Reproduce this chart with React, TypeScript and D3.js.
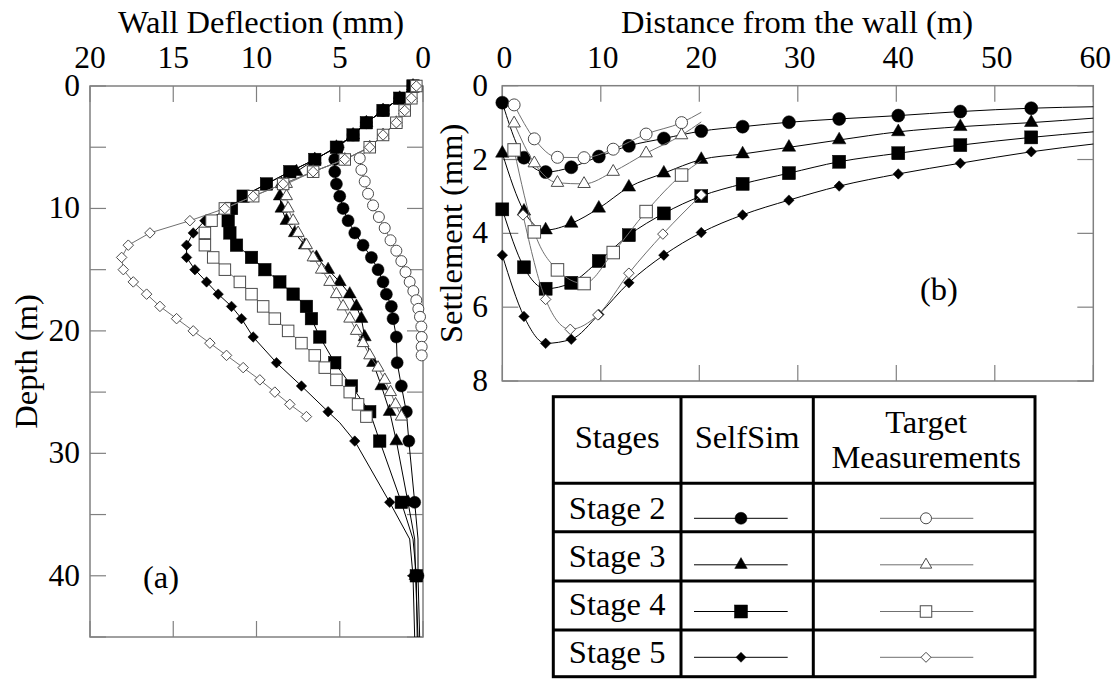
import React from 'react';
import * as d3 from 'd3';

// ---------- Panel (a): wall deflection (mm) vs depth (m) ----------
const A_SIM_DEPTH = [0,1,2,3,4,5,6,7,8,9,10,11,12,13,14,15,16,17,18,19,20.5,22.6,24.5,26.6,29,34,37,40,45];
const A_SIM_S2 = [0.6,1.4,2.4,3.4,4.2,5.1,5.3,5.3,5.2,5.0,4.8,4.5,4.1,3.6,3.1,2.7,2.4,2.2,1.9,1.8,1.6,1.55,1.3,1.0,0.85,0.5,0.3,0.3,0.2];
const A_SIM_S3 = [0.6,1.4,2.4,3.4,4.2,5.2,6.5,7.6,8.5,8.6,8.5,8.2,7.7,7.1,6.4,5.7,5.0,4.4,4.0,3.7,3.5,3.0,2.5,2.0,1.6,0.9,0.5,0.45,0.3];
const A_SIM_S4 = [0.6,1.4,2.4,3.4,4.2,5.2,6.5,8.0,9.4,10.8,11.5,11.7,11.6,11.2,10.3,9.5,8.6,7.8,7.0,6.7,6.2,5.3,4.3,3.2,2.6,1.3,0.6,0.4,0.35];
const A_SIM_S5_DEPTH = [0,1,2,3,4,5,6,7,8,9,10,11,12,13,14,15,16,17,18,19,20.5,22.6,24.5,26.6,27.5,29,34,37,40,45];
const A_SIM_S5 = [0.6,1.4,2.4,3.4,4.2,5.2,6.5,8.0,9.4,10.8,11.6,13.1,13.8,14.2,14.2,13.7,13.0,12.3,11.5,10.9,10.2,8.8,7.3,5.7,5.0,4.1,2.0,0.8,0.6,0.5];
const A_SIM_UNMARKED = [27.5, 37, 45];

const A_MEAS_S2_DEPTH = [0,1,2,3,4,5,5.9,6.85,7.8,8.8,9.75,10.7,11.6,12.6,13.45,14.3,15.2,16.0,16.75,17.5,18.2,18.85,19.65,20.5,21.3,22.0];
const A_MEAS_S2 = [0.4,0.7,1.1,1.6,2.4,3.2,3.8,3.7,3.5,3.3,3.0,2.65,2.3,1.95,1.6,1.3,1.05,0.8,0.58,0.4,0.28,0.18,0.1,0.08,0.08,0.08];
const A_MEAS_DEPTH = [0,1,2,3,4,5,6,7,8,9,10,11,12,13,14,15,16,17,18,19,20,21,22,23,24,25,26,27];
const A_MEAS_S3 = [0.4,0.7,1.1,1.6,2.4,3.2,4.7,6.6,8.2,8.2,8.1,7.8,7.5,7.0,6.6,6.1,5.6,5.2,4.8,4.4,4.0,3.6,3.2,2.7,2.3,1.95,1.65,1.3];
const A_MEAS_S4 = [0.4,0.7,1.1,1.6,2.4,3.2,4.7,6.6,8.4,10.2,11.9,12.7,13.1,13.1,12.6,11.9,11.0,10.3,9.6,8.9,8.1,7.3,6.5,5.9,5.2,4.4,3.9,3.4];
const A_MEAS_S5 = [0.4,0.7,1.1,1.6,2.4,3.2,4.7,6.6,8.4,10.2,11.9,14.0,16.4,17.7,18.1,18.0,17.4,16.6,15.8,14.8,13.8,12.8,11.8,10.8,9.8,8.9,8.0,7.0];

const A_X_TICKS = [0,5,10,15,20];
const A_Y_TICKS = [0,5,10,15,20,25,30,35,40,45];
const A_Y_LABELS = [0,10,20,30,40];

// ---------- Panel (b): settlement (mm) vs distance (m) ----------
const B_SIM_DIST = [0,2.2,4.4,7.0,9.8,12.85,16.4,20.2,24.4,29.1,34.2,40.2,46.5,53.7,60];
const B_SIM_S2 = [0.46,1.95,2.34,2.21,1.92,1.63,1.43,1.23,1.11,0.99,0.90,0.81,0.70,0.61,0.57];
const B_SIM_S3 = [1.83,3.4,3.91,3.73,3.32,2.75,2.37,2.0,1.85,1.67,1.47,1.25,1.11,1.0,0.88];
const B_SIM_S4 = [3.35,4.92,5.5,5.34,4.75,4.05,3.46,2.99,2.66,2.37,2.06,1.83,1.61,1.40,1.25];
const B_SIM_S5 = [4.59,6.25,6.98,6.87,6.2,5.34,4.59,3.98,3.50,3.10,2.72,2.39,2.10,1.79,1.58];
const B_SIM_UNMARKED = [60];

const B_MEAS_DIST = [1.2,3.25,5.6,8.3,11.26,14.6,18.2,20.2];
const B_MEAS_S2 = [0.52,1.44,1.94,1.95,1.72,1.31,1.0,0.72];
const B_MEAS_S3 = [1.02,2.1,2.63,2.66,2.33,1.83,1.34,0.98];
const B_MEAS_S4 = [1.74,3.96,4.99,5.36,4.52,3.41,2.42,2.03];
const B_MEAS_UNMARKED = [20.2];
const B_MEAS_S5_DIST = [2.1,4.4,6.9,9.7,12.85,16.3,20.2];
const B_MEAS_S5 = [3.5,5.79,6.6,6.21,5.08,4.02,2.96];

const B_X_TICKS = [0,10,20,30,40,50,60];
const B_Y_TICKS = [0,2,4,6,8];

const STAGES = ['Stage 2','Stage 3','Stage 4','Stage 5'];
const SHAPES = ['circle','triangle','square','diamond'];

const FONT = '"Liberation Serif", "Times New Roman", serif';
const GRID = '#808080';
const MEAS_LINE = '#707070';
const MEAS_STROKE = '#4a4a4a';

const TITLE_FS = 32.5;
const TICK_FS = 31.5;
const TABLE_FS = 32.5;

type Pt = { a: number; b: number; m: boolean };

function zipPts(xs: number[], ys: number[], unmarked: number[] = []): Pt[] {
  return xs.map((v, i) => ({ a: v, b: ys[i], m: !unmarked.includes(v) }));
}

function Marker({ shape, x, y, size, filled }: { shape: string; x: number; y: number; size: number; filled: boolean }) {
  const fill = filled ? '#000' : '#fff';
  const stroke = filled ? '#000' : MEAS_STROKE;
  const sw = filled ? 0.5 : 1;
  const s = size;
  if (shape === 'circle') return <circle cx={x} cy={y} r={s / 2} fill={fill} stroke={stroke} strokeWidth={sw} />;
  if (shape === 'square') return <rect x={x - s / 2} y={y - s / 2} width={s} height={s} fill={fill} stroke={stroke} strokeWidth={sw} />;
  if (shape === 'triangle') {
    const h = s * 0.866;
    const pts = `${x},${y - (2 * h) / 3} ${x + s / 2},${y + h / 3} ${x - s / 2},${y + h / 3}`;
    return <polygon points={pts} fill={fill} stroke={stroke} strokeWidth={sw} />;
  }
  const pts = `${x},${y - s / 2} ${x + s / 2},${y} ${x},${y + s / 2} ${x - s / 2},${y}`;
  return <polygon points={pts} fill={fill} stroke={stroke} strokeWidth={sw} />;
}

export default function App() {
  // scales
  const xA = d3.scaleLinear().domain([20, 0]).range([90, 423]);
  const yA = d3.scaleLinear().domain([0, 45]).range([86, 637]);
  const xB = d3.scaleLinear().domain([0, 60]).range([502.3, 1093.3]);
  const yB = d3.scaleLinear().domain([0, 8]).range([85.7, 381]);

  const lineA = d3.line<Pt>().x(p => xA(p.b)).y(p => yA(p.a)).curve(d3.curveLinear);
  const lineB = d3.line<Pt>().x(p => xB(p.a)).y(p => yB(p.b)).curve(d3.curveMonotoneX);

  const aSim = [
    zipPts(A_SIM_DEPTH, A_SIM_S2, A_SIM_UNMARKED),
    zipPts(A_SIM_DEPTH, A_SIM_S3, A_SIM_UNMARKED),
    zipPts(A_SIM_DEPTH, A_SIM_S4, A_SIM_UNMARKED),
    zipPts(A_SIM_S5_DEPTH, A_SIM_S5, A_SIM_UNMARKED),
  ];
  const aMeas = [
    zipPts(A_MEAS_S2_DEPTH, A_MEAS_S2),
    zipPts(A_MEAS_DEPTH, A_MEAS_S3),
    zipPts(A_MEAS_DEPTH, A_MEAS_S4),
    zipPts(A_MEAS_DEPTH, A_MEAS_S5),
  ];
  const bSim = [B_SIM_S2, B_SIM_S3, B_SIM_S4, B_SIM_S5].map(s => zipPts(B_SIM_DIST, s, B_SIM_UNMARKED));
  const bMeas = [
    zipPts(B_MEAS_DIST, B_MEAS_S2, B_MEAS_UNMARKED),
    zipPts(B_MEAS_DIST, B_MEAS_S3, B_MEAS_UNMARKED),
    zipPts(B_MEAS_DIST, B_MEAS_S4, B_MEAS_UNMARKED),
    zipPts(B_MEAS_S5_DIST, B_MEAS_S5),
  ];

  const simSizeA: Record<string, number> = { circle: 12, triangle: 13, square: 12.5, diamond: 10.5 };
  const measSizeA: Record<string, number> = { circle: 11, triangle: 12, square: 11.5, diamond: 10.5 };
  const simSizeB: Record<string, number> = { circle: 13, triangle: 13.5, square: 13, diamond: 10.5 };
  const measSizeB: Record<string, number> = { circle: 12, triangle: 12.5, square: 12.5, diamond: 10.5 };
  const simSizeL: Record<string, number> = { circle: 12, triangle: 12.5, square: 13, diamond: 10 };
  const measSizeL: Record<string, number> = { circle: 11, triangle: 11.5, square: 11.5, diamond: 10 };

  const TL = 16; // tick length

  const [ax0, ax1] = xA.range();
  const [ay0, ay1] = yA.range();
  const [bx0, bx1] = xB.range();
  const [by0, by1] = yB.range();

  // table layout
  const tX = [553.3, 681, 813.3, 1035];
  const tY = [396.7, 483.3, 531.7, 581, 630, 676.7];
  const sampleY = [518.3, 564.8, 611.5, 657.3];
  const textY = [518.5, 566.5, 614.5, 662.5];

  return (
    <svg width={1116} height={679} style={{ position: 'absolute', left: 0, top: 0, background: '#fff' }} fontFamily={FONT}>
      <rect x={0} y={0} width={1116} height={679} fill="#fff" />

      {/* ---------- Panel (a) ---------- */}
      <g>
        {A_X_TICKS.map(v => (
          <g key={'ax' + v}>
            <line x1={xA(v)} x2={xA(v)} y1={ay0} y2={ay0 + TL} stroke={GRID} strokeWidth={1.2} />
            <line x1={xA(v)} x2={xA(v)} y1={ay1} y2={ay1 - TL} stroke={GRID} strokeWidth={1.2} />
            <text x={xA(v)} y={68} fontSize={TICK_FS} textAnchor="middle">{v}</text>
          </g>
        ))}
        {A_Y_TICKS.map(v => (
          <g key={'ay' + v}>
            <line x1={ax0} x2={ax0 + TL} y1={yA(v)} y2={yA(v)} stroke={GRID} strokeWidth={1.2} />
            <line x1={ax1} x2={ax1 - TL} y1={yA(v)} y2={yA(v)} stroke={GRID} strokeWidth={1.2} />
          </g>
        ))}
        {A_Y_LABELS.map(v => (
          <text key={'ayl' + v} x={80} y={yA(v) + 10} fontSize={TICK_FS} textAnchor="end">{v}</text>
        ))}
        <rect x={ax0} y={ay0} width={ax1 - ax0} height={ay1 - ay0} fill="none" stroke={GRID} strokeWidth={1.5} />
        <text x={261} y={33} fontSize={TITLE_FS} textAnchor="middle">Wall Deflection (mm)</text>
        <text transform={`translate(37,${(ay0 + ay1) / 2}) rotate(-90)`} fontSize={TITLE_FS} textAnchor="middle">Depth (m)</text>
        <text x={143} y={588} fontSize={TITLE_FS}>(a)</text>

        {aSim.map((pts, i) => (
          <path key={'as' + i} d={lineA(pts) || ''} fill="none" stroke="#000" strokeWidth={1} />
        ))}
        {aSim.map((pts, i) =>
          pts.filter(p => p.m).map((p, j) => (
            <Marker key={`asm${i}-${j}`} shape={SHAPES[i]} x={xA(p.b)} y={yA(p.a)} size={simSizeA[SHAPES[i]]} filled />
          ))
        )}
        {aMeas.map((pts, i) => (
          <path key={'am' + i} d={lineA(pts) || ''} fill="none" stroke={MEAS_LINE} strokeWidth={1} />
        ))}
        {aMeas.map((pts, i) =>
          pts.filter(p => p.m).map((p, j) => (
            <Marker key={`amm${i}-${j}`} shape={SHAPES[i]} x={xA(p.b)} y={yA(p.a)} size={measSizeA[SHAPES[i]]} filled={false} />
          ))
        )}
      </g>

      {/* ---------- Panel (b) ---------- */}
      <g>
        {B_X_TICKS.map(v => (
          <g key={'bx' + v}>
            <line x1={xB(v)} x2={xB(v)} y1={by0} y2={by0 + TL} stroke={GRID} strokeWidth={1.2} />
            <line x1={xB(v)} x2={xB(v)} y1={by1} y2={by1 - TL} stroke={GRID} strokeWidth={1.2} />
            <text x={xB(v) + 2} y={68} fontSize={TICK_FS} textAnchor="middle">{v}</text>
          </g>
        ))}
        {B_Y_TICKS.map(v => (
          <g key={'by' + v}>
            <line x1={bx0} x2={bx0 + TL} y1={yB(v)} y2={yB(v)} stroke={GRID} strokeWidth={1.2} />
            <line x1={bx1} x2={bx1 - TL} y1={yB(v)} y2={yB(v)} stroke={GRID} strokeWidth={1.2} />
            <text x={488} y={yB(v) + 10} fontSize={TICK_FS} textAnchor="end">{v}</text>
          </g>
        ))}
        <rect x={bx0} y={by0} width={bx1 - bx0} height={by1 - by0} fill="none" stroke={GRID} strokeWidth={1.5} />
        <text x={797} y={33} fontSize={TITLE_FS} textAnchor="middle">Distance from the wall (m)</text>
        <text transform={`translate(462,${(by0 + by1) / 2}) rotate(-90)`} fontSize={TITLE_FS} textAnchor="middle">Settlement (mm)</text>
        <text x={920} y={300} fontSize={TITLE_FS}>(b)</text>

        {bSim.map((pts, i) => (
          <path key={'bs' + i} d={lineB(pts) || ''} fill="none" stroke="#000" strokeWidth={1} />
        ))}
        {bSim.map((pts, i) =>
          pts.filter(p => p.m).map((p, j) => (
            <Marker key={`bsm${i}-${j}`} shape={SHAPES[i]} x={xB(p.a)} y={yB(p.b)} size={simSizeB[SHAPES[i]]} filled />
          ))
        )}
        {bMeas.map((pts, i) => (
          <path key={'bm' + i} d={lineB(pts) || ''} fill="none" stroke={MEAS_LINE} strokeWidth={1} />
        ))}
        {bMeas.map((pts, i) =>
          pts.filter(p => p.m).map((p, j) => (
            <Marker key={`bmm${i}-${j}`} shape={SHAPES[i]} x={xB(p.a)} y={yB(p.b)} size={measSizeB[SHAPES[i]]} filled={false} />
          ))
        )}
      </g>

      {/* ---------- Legend table ---------- */}
      <g>
        <rect x={tX[0]} y={tY[0]} width={tX[3] - tX[0]} height={tY[5] - tY[0]} fill="#fff" stroke="#000" strokeWidth={3} />
        {[tX[1], tX[2]].map((x, i) => (
          <line key={'tc' + i} x1={x} x2={x} y1={tY[0]} y2={tY[5]} stroke="#000" strokeWidth={3} />
        ))}
        {tY.slice(1, 5).map((y, i) => (
          <line key={'tr' + i} x1={tX[0]} x2={tX[3]} y1={y} y2={y} stroke="#000" strokeWidth={3} />
        ))}
        <text x={(tX[0] + tX[1]) / 2} y={448} fontSize={TABLE_FS} textAnchor="middle">Stages</text>
        <text x={(tX[1] + tX[2]) / 2} y={448} fontSize={TABLE_FS} textAnchor="middle">SelfSim</text>
        <text x={(tX[2] + tX[3]) / 2 + 2} y={433} fontSize={TABLE_FS} textAnchor="middle">Target</text>
        <text x={(tX[2] + tX[3]) / 2 + 2} y={468} fontSize={TABLE_FS} textAnchor="middle">Measurements</text>
        {STAGES.map((s, i) => (
          <g key={'tl' + i}>
            <text x={(tX[0] + tX[1]) / 2} y={textY[i]} fontSize={TABLE_FS} textAnchor="middle">{s}</text>
            <line x1={694} x2={787.7} y1={sampleY[i]} y2={sampleY[i]} stroke="#000" strokeWidth={1} />
            <Marker shape={SHAPES[i]} x={741} y={sampleY[i]} size={simSizeL[SHAPES[i]]} filled />
            <line x1={880} x2={973.3} y1={sampleY[i]} y2={sampleY[i]} stroke={MEAS_LINE} strokeWidth={1} />
            <Marker shape={SHAPES[i]} x={926} y={sampleY[i]} size={measSizeL[SHAPES[i]]} filled={false} />
          </g>
        ))}
      </g>
    </svg>
  );
}
